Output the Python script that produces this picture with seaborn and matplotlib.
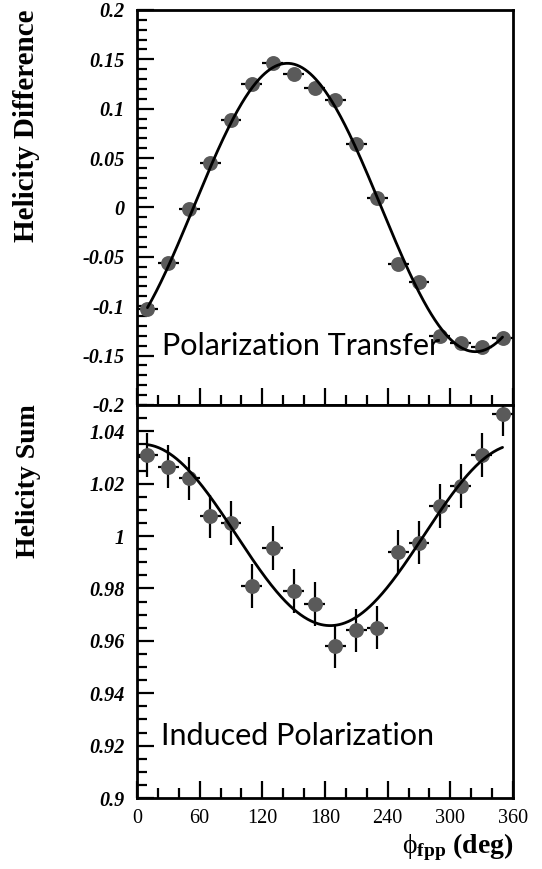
import numpy as np
import pandas as pd
import matplotlib
matplotlib.use("Agg")
import matplotlib.pyplot as plt
from matplotlib.ticker import MultipleLocator
import seaborn as sns

# ---- data ----
phi = [10, 30, 50, 70, 90, 110, 130, 150, 170, 190, 210, 230, 250, 270, 290, 310, 330, 350]
phi_err = [10] * 18
hel_diff = [-0.103, -0.056, -0.002, 0.045, 0.089, 0.125, 0.146, 0.135, 0.121, 0.109,
            0.064, 0.010, -0.057, -0.075, -0.130, -0.137, -0.141, -0.132]
hel_diff_err = [0.006] * 18
hel_sum = [1.031, 1.0265, 1.022, 1.0075, 1.005, 0.981, 0.9955, 0.979, 0.974, 0.958,
           0.964, 0.965, 0.994, 0.9975, 1.0115, 1.019, 1.031, 1.0465]
hel_sum_err = [0.0083] * 18

# fit parameters (A + B*cos(phi - phi0))
diff_fit = dict(offset=0.0, amp=0.146, phase=144.0)
sum_fit = dict(offset=1.0004, amp=0.0346, phase=5.0)

xticks = [0, 60, 120, 180, 240, 300, 360]
diff_ticks = [0.2, 0.15, 0.1, 0.05, 0, -0.05, -0.1, -0.15, -0.2]
diff_ticklabels = ["0.2", "0.15", "0.1", "0.05", "0", "-0.05", "-0.1", "-0.15", "-0.2"]
sum_ticks = [0.9, 0.92, 0.94, 0.96, 0.98, 1.0, 1.02, 1.04]
sum_ticklabels = ["0.9", "0.92", "0.94", "0.96", "0.98", "1", "1.02", "1.04"]

sns.set_theme(style="white")
plt.rcParams["font.family"] = ["Liberation Serif", "DejaVu Serif"]
plt.rcParams["text.color"] = "black"
plt.rcParams["xtick.color"] = "black"
plt.rcParams["ytick.color"] = "black"
plt.rcParams["mathtext.fontset"] = "custom"
plt.rcParams["mathtext.rm"] = "Liberation Serif"
plt.rcParams["mathtext.bf"] = "Liberation Serif:bold"
plt.rcParams["mathtext.it"] = "Liberation Serif:italic"

W, H = 542, 869
fig = plt.figure(figsize=(W / 100, H / 100), dpi=100)
L, R = 137 / W, 513 / W
ax1 = fig.add_axes([L, 1 - 405 / H, R - L, (405 - 10) / H])
ax2 = fig.add_axes([L, 1 - 798 / H, R - L, (798 - 405) / H])

marker_color = "#5a5a5a"
df1 = pd.DataFrame({"phi": phi, "val": hel_diff})
df2 = pd.DataFrame({"phi": phi, "val": hel_sum})


def curve(fit):
    x = np.linspace(phi[0], phi[-1], 400)
    y = fit["offset"] + fit["amp"] * np.cos(np.radians(x - fit["phase"]))
    return pd.DataFrame({"phi": x, "val": y})


for ax, df, yerr, fit in [(ax1, df1, hel_diff_err, diff_fit), (ax2, df2, hel_sum_err, sum_fit)]:
    ax.errorbar(df["phi"], df["val"], xerr=phi_err, yerr=yerr, fmt="none",
                ecolor="black", elinewidth=1.6, capsize=0, zorder=2)
    sns.scatterplot(data=df, x="phi", y="val", ax=ax, s=115, color=marker_color,
                    edgecolor=marker_color, linewidth=0, zorder=3, legend=False)
    sns.lineplot(data=curve(fit), x="phi", y="val", ax=ax, color="black", lw=2.0, zorder=4)
    ax.set_xlim(0, 360)
    ax.set_xlabel("")
    ax.set_ylabel("")
    for sp in ax.spines.values():
        sp.set_visible(True)
        sp.set_color("black")
        sp.set_linewidth(2.0)
    ax.xaxis.set_major_locator(MultipleLocator(60))
    ax.xaxis.set_minor_locator(MultipleLocator(20))
    ax.tick_params(which="both", direction="in", left=True, bottom=True, top=False, right=False,
                   color="black", width=1.6)
    ax.tick_params(which="major", length=12)
    ax.tick_params(which="minor", length=7)

ax1.set_ylim(-0.2, 0.2)
ax1.set_yticks(diff_ticks)
ax1.set_yticklabels(diff_ticklabels)
ax1.yaxis.set_minor_locator(MultipleLocator(0.01))
ax1.set_xticks(xticks)
ax1.tick_params(axis="x", labelbottom=False)

ax2.set_ylim(0.9, 1.05)
ax2.set_yticks(sum_ticks)
ax2.set_yticklabels(sum_ticklabels)
ax2.yaxis.set_minor_locator(MultipleLocator(0.005))
ax2.set_xticks(xticks)
ax2.set_xticklabels([str(v) for v in xticks])

for ax in (ax1, ax2):
    for lab in ax.get_yticklabels():
        lab.set_fontweight("bold")
        lab.set_fontstyle("italic")
        lab.set_fontsize(14.5)
    ax.tick_params(axis="y", pad=9)
for lab in ax2.get_xticklabels():
    lab.set_fontsize(14.5)
ax2.tick_params(axis="x", pad=8)

ax1.text(23.5, -0.149, "Polarization Transfer", family=["Lato", "DejaVu Sans"], fontsize=22,
         fontweight="normal", color="black", va="baseline", ha="left", zorder=5)
ax2.text(23, 0.9203, "Induced Polarization", family=["Lato", "DejaVu Sans"], fontsize=22,
         fontweight="normal", color="black", va="baseline", ha="left", zorder=5)

fig.text(27 / W, 1 - 9 / H, "Helicity Difference", rotation=90, ha="center", va="top",
         fontsize=21, fontweight="bold")
fig.text(29 / W, 1 - 404 / H, "Helicity Sum", rotation=90, ha="center", va="top",
         fontsize=20, fontweight="bold")
fig.text(513 / W, 1 - 853 / H, r"$\mathrm{\phi}_{\mathbf{fpp}}$ $\mathbf{(deg)}$", ha="right",
         va="baseline", fontsize=20)

fig.savefig("out.png", dpi=100)
